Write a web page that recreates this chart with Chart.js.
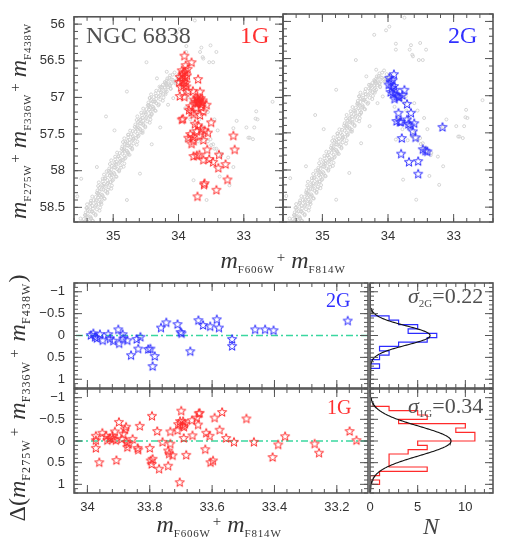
<!DOCTYPE html>
<html><head><meta charset="utf-8">
<script src="https://cdn.jsdelivr.net/npm/chart.js@4.4.1/dist/chart.umd.min.js"></script>
<style>
html,body{margin:0;padding:0;background:#fff;}
#wrap{position:relative;width:532px;height:550px;overflow:hidden;background:#fff;}
canvas{position:absolute;left:0;top:0;}
.t{position:absolute;font-family:'Liberation Serif','DejaVu Serif',serif;color:#333;white-space:nowrap;line-height:1;}
.t i{font-size:24px;}
.t .s{font-size:11px;position:relative;top:5px;letter-spacing:0.8px;font-style:normal;}
.t .p{font-size:15px;position:relative;top:-6px;margin:0 6px 0 2px;}
.t .u{font-size:24px;font-style:normal;}
.t.big .s{font-size:12px;letter-spacing:1.1px;}
.t.big .p{margin:0 8px 0 3px;}
.rot{transform:rotate(-90deg);transform-origin:50% 50%;text-align:center;height:24px;}
.ann{position:absolute;font-family:'Liberation Serif','DejaVu Serif',serif;white-space:nowrap;line-height:1;}
.ann sub{font-size:11px;vertical-align:-4px;}
</style></head><body><div id="wrap">
<canvas id="cTL" width="532" height="550"></canvas>
<canvas id="cTR" width="532" height="550"></canvas>
<canvas id="cB2" width="532" height="550"></canvas>
<canvas id="cB1" width="532" height="550"></canvas>
<canvas id="cH2" width="532" height="550"></canvas>
<canvas id="cH1" width="532" height="550"></canvas>

<div class="t" style="left:133px;top:248px;width:300px;text-align:center"><i>m</i><span class="s">F606W</span><span class="p">+</span><i>m</i><span class="s">F814W</span></div>
<div class="t rot" style="left:-112px;top:109px;width:260px"><i>m</i><span class="s">F275W</span><span class="p">+</span><i>m</i><span class="s">F336W</span><span class="p">+</span><i>m</i><span class="s">F438W</span></div>
<div class="t rot big" style="left:-143px;top:386px;width:320px"><span class="u">Δ(</span><i>m</i><span class="s">F275W</span><span class="p">+</span><i>m</i><span class="s">F336W</span><span class="p">+</span><i>m</i><span class="s">F438W</span><span class="u">)</span></div>
<div class="t" style="left:69px;top:512px;width:300px;text-align:center"><i>m</i><span class="s">F606W</span><span class="p">+</span><i>m</i><span class="s">F814W</span></div>
<div class="t" style="left:401px;top:514px;width:60px;text-align:center;color:#444"><i>N</i></div>

<div class="ann" style="left:86px;top:23px;font-size:24px;color:#505050">NGC 6838</div>
<div class="ann" style="left:240px;top:23px;font-size:24px;color:#ff3030">1G</div>
<div class="ann" style="left:448px;top:23px;font-size:24px;color:#3030ff">2G</div>
<div class="ann" style="left:326px;top:290px;font-size:20px;color:#3030ff">2G</div>
<div class="ann" style="left:327px;top:397px;font-size:20px;color:#ff3030">1G</div>
<div class="ann" style="left:408px;top:285px;font-size:22px;color:#505050"><i>σ</i><sub>2G</sub>=0.22</div>
<div class="ann" style="left:408px;top:395px;font-size:22px;color:#505050"><i>σ</i><sub>1G</sub>=0.34</div>
</div>
<script>
// ---------------- DATA ----------------
// tick labels
const cmdColorTicks = [35, 34, 33];
const cmdMagTicks = [56, 56.5, 57, 57.5, 58, 58.5];
const deltaColorTicks = [34, 33.8, 33.6, 33.4, 33.2];
const deltaTicks = [-1, -0.5, 0, 0.5, 1];
const countTicks = [0, 5, 10];

// CMD: all stars (gray) [m606+m814, m275+m336+m438]
const grayCmd = [
[35.36,58.72],[35.45,58.728],[35.52,58.709],[35.39,58.695],[35.48,58.703],[35.31,58.684],
[35.41,58.67],[35.32,58.678],[35.45,58.659],[35.34,58.645],[35.50,58.653],[35.39,58.634],
[35.41,58.62],[35.35,58.628],[35.27,58.609],[35.27,58.595],[35.43,58.603],[35.39,58.584],
[35.42,58.57],[35.30,58.578],[35.33,58.559],[35.21,58.545],[35.36,58.553],[35.39,58.534],
[35.31,58.52],[35.25,58.528],[35.41,58.509],[35.35,58.495],[35.20,58.503],[35.27,58.484],
[35.26,58.47],[35.32,58.478],[35.40,58.459],[35.34,58.445],[35.22,58.453],[35.19,58.434],
[35.18,58.42],[35.27,58.428],[35.34,58.409],[35.21,58.395],[35.30,58.403],[35.13,58.384],
[35.23,58.37],[35.14,58.378],[35.27,58.359],[35.16,58.345],[35.32,58.353],[35.21,58.334],
[35.23,58.32],[35.17,58.328],[35.09,58.309],[35.09,58.295],[35.25,58.303],[35.21,58.284],
[35.24,58.27],[35.12,58.278],[35.15,58.259],[35.03,58.245],[35.18,58.253],[35.21,58.234],
[35.13,58.22],[35.07,58.228],[35.23,58.209],[35.17,58.195],[35.02,58.203],[35.09,58.184],
[35.08,58.17],[35.14,58.178],[35.22,58.159],[35.16,58.145],[35.04,58.153],[35.01,58.134],
[35.00,58.12],[35.09,58.128],[35.16,58.109],[35.03,58.095],[35.12,58.103],[34.95,58.084],
[35.05,58.07],[34.96,58.078],[35.09,58.059],[34.98,58.045],[35.14,58.053],[35.03,58.034],
[35.05,58.02],[34.99,58.028],[34.91,58.009],[34.91,57.995],[35.07,58.003],[35.03,57.984],
[35.06,57.97],[34.94,57.978],[34.97,57.959],[34.84,57.945],[34.99,57.953],[35.02,57.934],
[34.95,57.92],[34.89,57.928],[35.05,57.909],[34.98,57.895],[34.83,57.903],[34.90,57.884],
[34.89,57.87],[34.95,57.878],[35.03,57.859],[34.97,57.845],[34.85,57.853],[34.82,57.834],
[34.81,57.82],[34.90,57.828],[34.97,57.809],[34.83,57.795],[34.92,57.803],[34.75,57.784],
[34.86,57.77],[34.77,57.778],[34.90,57.759],[34.78,57.745],[34.94,57.753],[34.83,57.734],
[34.85,57.72],[34.79,57.728],[34.71,57.709],[34.71,57.695],[34.87,57.703],[34.83,57.684],
[34.86,57.67],[34.74,57.678],[34.77,57.659],[34.64,57.645],[34.79,57.653],[34.82,57.634],
[34.75,57.62],[34.69,57.628],[34.85,57.609],[34.78,57.595],[34.63,57.603],[34.70,57.584],
[34.69,57.57],[34.75,57.578],[34.83,57.559],[34.77,57.545],[34.65,57.553],[34.62,57.534],
[34.61,57.52],[34.70,57.528],[34.77,57.509],[34.63,57.495],[34.72,57.503],[34.55,57.484],
[34.66,57.47],[34.57,57.478],[34.70,57.459],[34.58,57.445],[34.74,57.453],[34.63,57.434],
[34.65,57.42],[34.59,57.428],[34.51,57.409],[34.51,57.395],[34.67,57.403],[34.63,57.384],
[34.66,57.37],[34.54,57.378],[34.57,57.359],[34.44,57.345],[34.59,57.353],[34.62,57.334],
[34.54,57.32],[34.48,57.328],[34.64,57.309],[34.58,57.295],[34.43,57.303],[34.50,57.284],
[34.49,57.27],[34.55,57.278],[34.63,57.259],[34.56,57.245],[34.44,57.253],[34.41,57.234],
[34.41,57.22],[34.50,57.228],[34.57,57.209],[34.43,57.195],[34.52,57.203],[34.35,57.184],
[34.45,57.17],[34.36,57.178],[34.49,57.159],[34.38,57.145],[34.54,57.153],[34.43,57.134],
[34.45,57.12],[34.39,57.128],[34.31,57.109],[34.30,57.095],[34.46,57.103],[34.42,57.084],
[34.46,57.07],[34.34,57.078],[34.37,57.059],[34.24,57.045],[34.39,57.053],[34.42,57.034],
[34.34,57.02],[34.28,57.028],[34.44,57.009],[34.38,56.995],[34.23,57.003],[34.30,56.984],
[34.28,56.97],[34.34,56.978],[34.42,56.959],[34.35,56.945],[34.23,56.953],[34.20,56.934],
[34.18,56.92],[34.27,56.928],[34.34,56.909],[34.20,56.895],[34.29,56.903],[34.12,56.884],
[34.21,56.87],[34.12,56.878],[34.25,56.859],[34.13,56.845],[34.29,56.853],[34.18,56.834],
[34.19,56.82],[34.13,56.828],[34.05,56.809],[34.04,56.795],[34.20,56.803],[34.16,56.784],
[34.18,56.77],[34.06,56.778],[34.09,56.759],[33.96,56.745],[34.11,56.753],[34.14,56.734],
[35.45,58.708],[35.34,58.658],[35.43,58.608],[35.32,58.558],[35.40,58.508],[35.18,58.458],
[35.26,58.408],[35.18,58.358],[35.23,58.308],[35.08,58.258],[35.15,58.208],[35.04,58.158],
[35.13,58.108],[35.02,58.058],[35.10,58.008],[34.88,57.958],[34.96,57.908],[34.87,57.858],
[34.92,57.808],[34.77,57.758],[34.83,57.708],[34.72,57.658],[34.81,57.608],[34.69,57.558],
[34.77,57.508],[34.55,57.458],[34.62,57.408],[34.54,57.358],[34.59,57.308],[34.43,57.258],
[34.50,57.208],[34.39,57.158],[34.47,57.108],[34.36,57.058],[34.44,57.008],[34.20,56.958],
[34.26,56.908],[34.16,56.858],[34.19,56.808],[34.02,56.758],
[34.02,56.71],[34.09,56.69],[34.13,56.70],[34.06,56.66],[33.99,56.76],[34.17,56.74],
[34.21,56.79],[34.24,56.83],[34.27,56.86],[34.11,56.81],
[33.95,56.85],[33.90,56.92],[33.86,57.00],[33.80,57.05],[33.75,57.10],[33.72,57.20],
[33.68,57.30],[33.64,57.40],[33.60,57.50],[33.55,57.60],[33.50,57.65],[33.45,57.70],
[33.40,57.75],[33.35,57.80],[33.90,57.15],[33.82,57.30],[33.78,57.45],[33.70,57.60],
[33.73,57.01],[33.60,57.10],[33.55,57.20],[33.45,57.30],[33.40,57.45],[33.63,57.55],
[33.65,56.32],[33.67,56.38],[33.51,56.29],[33.42,56.38],[33.53,56.52],[33.62,56.47],
[33.98,56.07],[34.21,56.18],[34.03,56.12],[33.88,56.30],[33.63,56.45],[33.47,56.52],
[34.79,56.92],[35.11,57.26],[35.49,58.11],[35.35,58.44],[33.16,57.42],[32.96,57.41],
[32.93,57.55],[32.86,57.57],[32.82,57.29],[33.11,57.32],[33.42,57.70],[33.34,57.77],
[33.24,57.82],[33.47,57.64],[33.51,57.57],[33.16,57.95],[33.37,58.08],[33.57,58.40],
[33.77,58.13],[33.88,57.59],[34.08,57.01],[34.16,57.10],[34.28,57.41],[34.41,57.64],
[34.59,58.04],[34.79,58.40],[34.49,56.52],[34.33,56.74],[34.18,56.65],[33.88,56.38],
[32.81,57.19],[32.56,57.06],[32.79,57.30],[32.84,57.41],[32.91,57.55],[33.22,58.20],
[33.75,55.95],[35.55,58.35],[34.98,57.45],[35.25,57.95]
];

// CMD: first-generation stars (red)
const cmd1G = [
[33.91,56.43],[33.80,56.52],[33.89,56.56],[33.86,56.61],[33.95,56.63],[33.93,56.67],
[33.98,56.72],[33.90,56.72],[33.94,56.76],[33.99,56.79],[33.70,56.75],[33.92,56.83],
[33.88,56.85],[33.96,56.86],[33.85,56.91],[33.78,56.91],[33.98,56.98],[33.91,56.99],
[33.67,56.92],[33.76,57.03],[33.71,57.02],[33.69,57.05],[33.66,57.01],[33.64,57.07],
[33.71,57.08],[33.73,57.14],[33.65,57.13],[33.57,57.10],[33.82,57.12],[33.84,57.17],
[33.77,57.23],[33.62,57.19],[33.67,57.24],[33.95,57.30],[33.93,57.29],[33.50,57.34],
[33.70,57.38],[33.75,57.36],[33.65,57.43],[33.55,57.48],[33.82,57.50],[33.78,57.54],
[33.85,57.55],[33.77,57.59],[33.62,57.58],[33.80,57.63],[33.16,57.52],[33.14,57.71],
[33.56,57.71],[33.77,57.80],[33.72,57.79],[33.68,57.78],[33.38,57.78],[33.62,57.85],
[33.53,57.84],[33.47,57.88],[33.39,57.96],[33.28,57.91],[33.25,58.12],[33.61,58.19],
[33.60,58.17],[33.42,58.26],[33.71,58.35],[33.90,56.65],[33.94,56.69],[33.87,56.70],
[33.92,56.79],[33.89,56.80],[33.68,57.04],[33.70,57.06],[33.66,57.09],[33.72,57.00],
[33.63,57.04],[33.74,57.06],[33.80,57.20],[33.72,57.46],[33.60,57.45],[33.68,57.52]
];

// CMD: second-generation stars (blue)
const cmd2G = [
[33.91,56.71],[33.98,56.76],[33.96,56.81],[33.93,56.79],[33.99,56.85],[33.91,56.87],
[33.94,56.90],[33.89,56.92],[33.96,56.95],[33.92,56.97],[33.87,57.00],[33.83,57.02],
[33.90,57.04],[33.75,56.92],[33.78,56.99],[33.84,57.01],[33.71,57.11],[33.65,57.23],
[33.84,57.23],[33.87,57.34],[33.80,57.35],[33.71,57.32],[33.69,57.38],[33.60,57.37],
[33.62,57.48],[33.58,57.56],[33.79,57.57],[33.17,57.42],[33.47,57.72],[33.43,57.74],
[33.40,57.75],[33.80,57.78],[33.68,57.89],[33.54,57.88],[33.54,58.05],[33.82,57.35],
[33.66,57.40]
];

// Verticalised: [m606+m814, Delta]
const delta1G = [
[33.973,-0.12],[33.973,-0.02],[33.973,0.16],[33.962,0.49],[33.952,-0.19],[33.940,-0.12],
[33.936,-0.02],[33.928,-0.07],[33.920,-0.12],[33.917,-0.05],[33.912,-0.22],[33.909,-0.02],
[33.907,0.44],[33.899,-0.44],[33.890,-0.05],[33.885,-0.17],[33.880,-0.27],[33.876,-0.33],
[33.874,0.02],[33.872,0.14],[33.868,0.07],[33.855,-0.05],[33.839,0.16],[33.837,0.20],
[33.832,-0.35],[33.800,0.16],[33.797,0.45],[33.794,0.53],[33.791,0.41],[33.793,-0.58],
[33.776,-0.23],[33.770,0.64],[33.759,0.02],[33.741,0.22],[33.741,0.57],[33.738,0.29],
[33.734,-0.22],[33.734,0.06],[33.727,0.33],[33.711,-0.25],[33.709,-0.39],[33.704,0.95],
[33.703,-0.46],[33.699,-0.70],[33.695,-0.36],[33.693,-0.46],[33.690,-0.33],[33.691,-0.07],
[33.687,-0.40],[33.683,0.32],[33.663,-0.13],[33.665,-0.48],[33.649,-0.54],[33.643,-0.64],
[33.640,-0.65],[33.645,-0.38],[33.622,0.19],[33.619,-0.19],[33.608,-0.12],[33.605,0.49],
[33.597,0.45],[33.592,-0.54],[33.576,-0.26],[33.568,-0.67],[33.555,-0.07],[33.530,0.02],
[33.490,-0.52],[33.466,0.02],[33.406,0.37],[33.388,0.08],[33.366,-0.11],[33.271,0.06],
[33.257,0.27],[33.159,-0.23],[33.137,-0.02]
];
const delta2G = [
[33.989,-0.01],[33.981,-0.05],[33.976,0.03],[33.951,0.11],[33.933,-0.03],[33.928,0.07],
[33.917,0.12],[33.901,-0.14],[33.898,0.18],[33.887,-0.03],[33.885,0.07],[33.872,0.11],
[33.860,0.45],[33.842,0.08],[33.837,0.30],[33.830,0.03],[33.805,0.31],[33.798,0.30],
[33.791,0.70],[33.784,0.47],[33.764,-0.18],[33.747,-0.30],[33.711,-0.26],[33.701,-0.08],
[33.698,-0.05],[33.670,0.36],[33.644,-0.35],[33.629,-0.24],[33.606,-0.21],[33.585,-0.37],
[33.578,-0.18],[33.536,0.08],[33.536,0.24],[33.462,-0.14],[33.430,-0.14],[33.403,-0.12],
[33.165,-0.34],[33.970,0.06],[33.960,-0.03]
];

// Histograms of Delta (bin centres and counts), bin width 0.1
const binWidth = 0.1;
const hist2GCentres = [-0.4,-0.3,-0.2,-0.1,0.0,0.1,0.2,0.3,0.4,0.5,0.6,0.7];
const hist2GCounts  = [2,3,5,4,7,6,3,1,2,1,0,1];
const hist1GCentres = [-0.75,-0.65,-0.55,-0.45,-0.35,-0.25,-0.15,-0.05,0.05,0.15,0.25,0.35,0.45,0.55,0.65,0.75,0.85,0.95];
const hist1GCounts  = [2,5,6,3,10,9,11,11,5,6,4,2,2,2,6,1,0,1];

// Gaussian fits
const sigma2G = 0.22, peak2G = 6.3;
const sigma1G = 0.34, peak1G = 8.5;

// ---------------- RENDER ----------------
Chart.defaults.font.family = "'Liberation Sans', Arial, sans-serif";
const W = 532, H = 550;
const RED = '#ff2b2b', BLUE = '#2c2cff', GRAY = '#d0d0d0', GREEN = '#3ad7a0', FRAME = '#555';

function starImg(color) {
  const c = document.createElement('canvas'); c.width = 12; c.height = 12;
  const g = c.getContext('2d'); g.strokeStyle = color; g.lineWidth = 1;
  g.beginPath();
  for (let i = 0; i < 10; i++) {
    const r = i % 2 ? 2.0 : 4.8, a = -Math.PI / 2 + i * Math.PI / 5;
    const px = 6 + r * Math.cos(a), py = 6.4 + r * Math.sin(a);
    if (i) g.lineTo(px, py); else g.moveTo(px, py);
  }
  g.closePath(); g.stroke(); return c;
}
const starRed = starImg(RED), starBlue = starImg(BLUE);

const fmt = v => v < 0 ? '\u2212' + Math.abs(v) : String(v);

const frameTicks = {
  id: 'frameTicks',
  afterDatasetsDraw(chart, args, o) {
    const ctx = chart.ctx, a = chart.chartArea, sx = chart.scales.x, sy = chart.scales.y;
    ctx.save(); ctx.strokeStyle = FRAME; ctx.lineWidth = 1;
    const seg = (x1, y1, x2, y2) => { ctx.beginPath(); ctx.moveTo(x1, y1); ctx.lineTo(x2, y2); ctx.stroke(); };
    const vals = (step, mn, mx) => { const out = []; for (let k = Math.ceil(mn / step - 1e-6); k * step <= mx + 1e-9; k++) out.push(k * step); return out; };
    const xt = (v, L) => { const p = sx.getPixelForValue(v); seg(p, a.bottom, p, a.bottom - L); seg(p, a.top, p, a.top + L); };
    const yt = (v, L) => { const p = sy.getPixelForValue(v); seg(a.left, p, a.left + L, p); seg(a.right, p, a.right - L, p); };
    vals(o.xMinor, sx.min, sx.max).forEach(v => xt(v, 4));
    o.xMajor.forEach(v => xt(v, 8));
    vals(o.yMinor, sy.min, sy.max).forEach(v => yt(v, 4));
    o.yMajor.forEach(v => yt(v, 8));
    ctx.lineWidth = 1.6;
    ctx.strokeRect(a.left, a.top, a.right - a.left, a.bottom - a.top);
    ctx.restore();
  }
};

function axis(s, lab, dir, size) {
  return {
    type: 'linear', min: s.min, max: s.max, reverse: !!s.reverse,
    grid: { display: false, drawTicks: false },
    border: { display: false },
    ticks: { display: lab, padding: dir === 'x' ? 7 : 9, font: { size: 13 }, color: '#333',
      maxRotation: 0, autoSkip: false, callback: v => fmt(v) },
    afterBuildTicks: sc => { sc.ticks = s.ticks.map(v => ({ value: v })); },
    afterFit: sc => { if (dir === 'x') sc.height = size; else sc.width = size; }
  };
}

function panel(id, fr, xs, ys, datasets, xLab, yLab) {
  const yW = yLab ? 60 : 0, xH = xLab ? 30 : 0;
  return new Chart(document.getElementById(id), {
    type: 'scatter',
    data: { datasets },
    options: {
      responsive: false, animation: false, devicePixelRatio: 1, events: [],
      layout: { padding: { left: fr.l - yW, right: W - fr.r, top: fr.t, bottom: H - fr.b - xH } },
      plugins: { legend: { display: false }, tooltip: { enabled: false },
        frameTicks: { xMajor: xs.ticks, xMinor: xs.minor, yMajor: ys.ticks, yMinor: ys.minor } },
      scales: { x: axis(xs, xLab, 'x', xH), y: axis(ys, yLab, 'y', yW) }
    },
    plugins: [frameTicks]
  });
}

const pts = arr => arr.map(([x, y]) => ({ x, y }));
const grayDs = () => ({ data: pts(grayCmd), pointStyle: 'circle', pointRadius: 1.5, borderWidth: 0.9,
  borderColor: GRAY, backgroundColor: 'rgba(0,0,0,0)', clip: 0, order: 2 });
const starDs = (arr, img) => ({ data: pts(arr), pointStyle: img, pointRadius: 5, clip: 0, order: 0 });

const cmdX = { min: 32.4, max: 35.6, reverse: true, ticks: cmdColorTicks, minor: 0.2 };
const cmdY = { min: 55.9, max: 58.7, reverse: true, ticks: cmdMagTicks, minor: 0.1 };
const dX = { min: 33.1, max: 34.043, reverse: true, ticks: deltaColorTicks, minor: 0.04 };
const dY = { min: -1.2, max: 1.2, reverse: true, ticks: deltaTicks, minor: 0.1 };
const hX = { min: 0, max: 12.9, reverse: false, ticks: countTicks, minor: 1 };

panel('cTL', { l: 74, r: 283, t: 14, b: 222 }, cmdX, cmdY, [starDs(cmd1G, starRed), grayDs()], true, true);
panel('cTR', { l: 283, r: 493, t: 14, b: 222 }, cmdX, cmdY, [starDs(cmd2G, starBlue), grayDs()], true, false);

const zeroLine = () => ({ data: [{ x: dX.min, y: 0 }, { x: dX.max, y: 0 }], showLine: true, pointRadius: 0,
  borderColor: GREEN, borderWidth: 1.3, borderDash: [7, 3, 2, 3], clip: 0, order: 3 });
panel('cB2', { l: 74, r: 368, t: 283, b: 388 }, dX, dY, [starDs(delta2G, starBlue), zeroLine()], false, true);
panel('cB1', { l: 74, r: 368, t: 389, b: 493 }, dX, dY, [starDs(delta1G, starRed), zeroLine()], true, true);

function stepPath(centres, counts) {
  const out = [{ x: 0, y: centres[0] - binWidth / 2 }];
  centres.forEach((c, i) => { out.push({ x: counts[i], y: c - binWidth / 2 }); out.push({ x: counts[i], y: c + binWidth / 2 }); });
  out.push({ x: 0, y: centres[centres.length - 1] + binWidth / 2 });
  return out;
}
function gaussPath(sigma, peak) {
  const out = [];
  for (let k = -120; k <= 120; k++) { const y = k / 100; out.push({ x: peak * Math.exp(-y * y / (2 * sigma * sigma)), y }); }
  return out;
}
const histDs = (c, n, col) => ({ data: stepPath(c, n), showLine: true, pointRadius: 0, borderColor: col, borderWidth: 1.2, clip: 0, order: 1 });
const gaussDs = (s, p) => ({ data: gaussPath(s, p), showLine: true, pointRadius: 0, borderColor: '#111', borderWidth: 1.1, clip: 0, order: 0 });

panel('cH2', { l: 370, r: 493, t: 283, b: 388 }, hX, dY, [gaussDs(sigma2G, peak2G), histDs(hist2GCentres, hist2GCounts, BLUE)], false, false);
panel('cH1', { l: 370, r: 493, t: 389, b: 493 }, hX, dY, [gaussDs(sigma1G, peak1G), histDs(hist1GCentres, hist1GCounts, RED)], true, false);
</script>
</body></html>
